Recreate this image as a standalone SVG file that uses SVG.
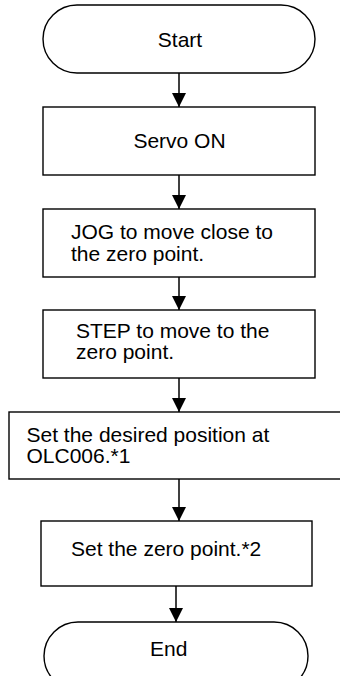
<svg xmlns="http://www.w3.org/2000/svg" width="340" height="676" viewBox="0 0 340 676">
<defs>
<style>
.box{fill:#fff;stroke:#000;stroke-width:1.4}
.t{font-family:"Liberation Sans",Arial,sans-serif;font-size:21px;fill:#000}
.m{text-anchor:middle}
.ln{stroke:#000;stroke-width:1.5;fill:none}
</style>
<marker id="ah" viewBox="0 0 14 14" refX="14" refY="7" markerWidth="14" markerHeight="14" markerUnits="userSpaceOnUse" orient="auto">
<path d="M0,0 L14,7 L0,14 Z" fill="#000"/>
</marker>
</defs>
<rect width="340" height="676" fill="#fff"/>
<g id="connectors">
<line class="ln" x1="179" y1="73" x2="179" y2="107" marker-end="url(#ah)"/>
<line class="ln" x1="179" y1="175" x2="179" y2="209" marker-end="url(#ah)"/>
<line class="ln" x1="179" y1="277" x2="179" y2="310" marker-end="url(#ah)"/>
<line class="ln" x1="179" y1="378" x2="179" y2="412" marker-end="url(#ah)"/>
<line class="ln" x1="179" y1="479" x2="179" y2="521" marker-end="url(#ah)"/>
<line class="ln" x1="176" y1="586" x2="176" y2="622" marker-end="url(#ah)"/>
</g>
<g id="start">
<rect class="box" x="43" y="5" width="272" height="68" rx="34" ry="34"/>
<text class="t m" x="180" y="46.5">Start</text>
</g>
<g id="servo-on">
<rect class="box" x="43" y="107" width="272" height="68"/>
<text class="t m" x="179.5" y="148.3">Servo ON</text>
</g>
<g id="jog">
<rect class="box" x="43" y="209" width="272" height="68"/>
<text class="t" x="71" y="239.3">JOG to move close to</text>
<text class="t" x="71" y="261">the zero point.</text>
</g>
<g id="step">
<rect class="box" x="43" y="310" width="272" height="68"/>
<text class="t" x="76" y="337.7">STEP to move to the</text>
<text class="t" x="76" y="359">zero point.</text>
</g>
<g id="set-position">
<rect class="box" x="9" y="412" width="340" height="67"/>
<text class="t" x="26.5" y="441.5">Set the desired position at</text>
<text class="t" x="26.5" y="463.3">OLC006.*1</text>
</g>
<g id="set-zero">
<rect class="box" x="41" y="521" width="271" height="65"/>
<text class="t" x="71" y="556">Set the zero point.*2</text>
</g>
<g id="end">
<rect class="box" x="44" y="622" width="264" height="68" rx="34" ry="34"/>
<text class="t m" x="168.7" y="656">End</text>
</g>
</svg>
